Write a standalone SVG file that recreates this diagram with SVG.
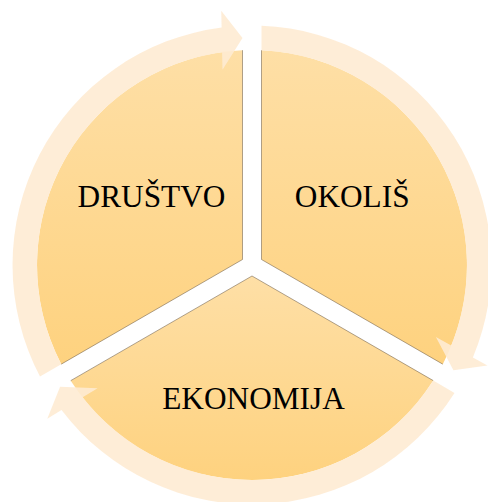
<svg xmlns="http://www.w3.org/2000/svg" xmlns:xlink="http://www.w3.org/1999/xlink" width="488" height="502" viewBox="0 0 488 502">
  <style>
    .seg { fill: url(#segGrad); }
    .edge { fill: none; stroke: #6b5a45; stroke-width: 0.9; stroke-opacity: 0.6; }
    .lbl { font-family: "Liberation Serif", "Times New Roman", serif; font-size: 31.3px; fill: #000; text-anchor: middle; }
    .arrow { fill: #FEEBD3; fill-opacity: 0.9; }
  </style>
  <defs>
    <linearGradient id="segGrad" x1="0" y1="0" x2="0" y2="1">
      <stop offset="0" stop-color="#FEDFA6"/>
      <stop offset="1" stop-color="#FED27F"/>
    </linearGradient>
    <path id="arrowShape" d="M 61.24 364.17 L 40.0 376.43 A 239.5 239.5 0 0 1 221.6 27.5 L 221.24 10.85 L 242.5 37.9 L 222.5 69.7 L 222.1 52.2 A 215 215 0 0 0 61.24 364.17 Z"/>
  </defs>
  <rect width="488" height="502" fill="#ffffff"/>

  <g id="node-drustvo">
    <path class="seg" d="M 242.5 259.5 L 242.5 50.21 A 215 215 0 0 0 61.24 364.17 Z"/>
    <path class="edge" d="M 242.5 50.21 L 242.5 259.5 L 61.24 364.17"/>
    <text class="lbl" x="151.5" y="206.5">DRUŠTVO</text>
  </g>

  <g id="node-okolis">
    <path class="seg" d="M 261.5 259.5 L 442.77 364.17 A 215 215 0 0 0 261.5 50.21 Z"/>
    <path class="edge" d="M 261.5 50.21 L 261.5 259.5 L 442.77 364.17"/>
    <text class="lbl" x="352.2" y="206.5">OKOLIŠ</text>
  </g>

  <g id="node-ekonomija">
    <path class="seg" d="M 252 275.97 L 70.73 380.63 A 215 215 0 0 0 433.26 380.62 Z"/>
    <path class="edge" d="M 70.73 380.63 L 252 275.97 L 433.26 380.62"/>
    <text class="lbl" x="253.5" y="409">EKONOMIJA</text>
  </g>

  <g id="connectors">
    <use xlink:href="#arrowShape" class="arrow"/>
    <use xlink:href="#arrowShape" class="arrow" transform="rotate(120 252 265)"/>
    <use xlink:href="#arrowShape" class="arrow" transform="rotate(240 252 265)"/>
  </g>
</svg>
